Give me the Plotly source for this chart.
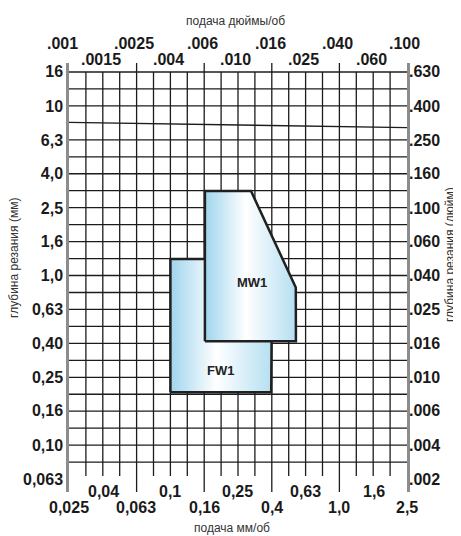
import numpy as np
import plotly.graph_objects as go

# ---------------- data ----------------
feed_mm_values = [0.025, 0.04, 0.063, 0.1, 0.16, 0.25, 0.4, 0.63, 1.0, 1.6, 2.5]
feed_mm_labels = ["0,025", "0,04", "0,063", "0,1", "0,16", "0,25", "0,4", "0,63", "1,0", "1,6", "2,5"]
feed_in_labels = [".001", ".0015", ".0025", ".004", ".006", ".010", ".016", ".025", ".040", ".060", ".100"]

depth_mm_values = [16, 10, 6.3, 4.0, 2.5, 1.6, 1.0, 0.63, 0.40, 0.25, 0.16, 0.10, 0.063]
depth_mm_labels = ["16", "10", "6,3", "4,0", "2,5", "1,6", "1,0", "0,63", "0,40", "0,25", "0,16", "0,10", "0,063"]
depth_in_labels = [".630", ".400", ".250", ".160", ".100", ".060", ".040", ".025", ".016", ".010", ".006", ".004", ".002"]

fw1_feed = [0.10, 0.10, 0.40, 0.395, 0.10]
fw1_depth = [0.205, 1.25, 1.25, 0.205, 0.205]
mw1_feed = [0.16, 0.16, 0.30, 0.535, 0.552, 0.553, 0.16]
mw1_depth = [0.41, 3.15, 3.15, 0.92, 0.85, 0.41, 0.41]

x_title = "подача мм/об"
x2_title = "подача дюймы/об"
y_title = "глубина резания (мм)"
y2_title = "глубина резания (дюйм)"

# ---------------- geometry ----------------
# the page body adds an 8px margin, so the figure is 8px smaller than the window
OFF = 8
W, H = 461 - OFF, 536 - OFF
ML, MR, MT, MB = 69 - OFF, 54, 63 - OFF, 44
PW = W - ML - MR
XLO, XHI = -1.6, 0.4
PX_PER_DEC_Y = 169.6
YHI = 1.2 + 9 / PX_PER_DEC_Y
YLO = YHI - (H - MT - MB) / PX_PER_DEC_Y

FONT = "Liberation Sans, Arial, sans-serif"
INK = "#1a1a1a"

# grid built on the R10 (10^0.1) series used by the chart
gx, gy = [], []
for k in range(-11, 13):          # horizontal lines 0.08 ... 16
    if k == 9:
        continue                  # this one is drawn slightly skewed below
    gx += [10 ** XLO, 10 ** XHI, None]
    gy += [10 ** (k / 10), 10 ** (k / 10), None]
gx += [10 ** XLO, 10 ** XHI, None]
gy += [10 ** 0.9035, 10 ** 0.8717, None]
for j in range(-15, 4):           # vertical lines (interior)
    long_tick = (j + 16) % 4 == 0
    y0 = 10 ** YLO if long_tick else 10 ** -1.182
    y1 = 10 ** YHI if long_tick else 10 ** 1.2
    gx += [10 ** (j / 10), 10 ** (j / 10), None]
    gy += [y0, y1, None]

fig = go.Figure()
fig.add_trace(go.Scatter(x=gx, y=gy, mode="lines", line=dict(color="#1c1c1c", width=1.3),
                         hoverinfo="skip", showlegend=False))

grad = dict(type="horizontal",
            colorscale=[[0, "#9fd5ee"], [0.45, "#ffffff"], [1, "#b5dff2"]])
fig.add_trace(go.Scatter(x=fw1_feed, y=fw1_depth, mode="lines", fill="toself", fillgradient=grad,
                         line=dict(color="#202020", width=2.5), hoverinfo="skip", showlegend=False))
fig.add_trace(go.Scatter(x=mw1_feed, y=mw1_depth, mode="lines", fill="toself", fillgradient=grad,
                         line=dict(color="#202020", width=2.5), hoverinfo="skip", showlegend=False))
fig.add_trace(go.Scatter(x=[None], y=[None], yaxis="y2", showlegend=False, hoverinfo="skip"))

tickfont = dict(family=FONT, size=16, color=INK)
common_y = dict(type="log", range=[YLO, YHI], showgrid=False, zeroline=False, showline=True,
                linecolor="#8c8c8c", linewidth=2.5, ticks="", tickfont=tickfont,
                tickvals=depth_mm_values)

fig.update_layout(
    width=W, height=H,
    margin=dict(l=ML, r=MR, t=MT, b=MB),
    paper_bgcolor="white", plot_bgcolor="white",
    showlegend=False,
    xaxis=dict(type="log", range=[XLO, XHI], showgrid=False, zeroline=False, showline=False,
               showticklabels=False, ticks=""),
    yaxis=dict(**common_y, ticktext=[f"<b>{t}</b>" for t in depth_mm_labels]),
    yaxis2=dict(**common_y, overlaying="y", side="right", ticklabelstandoff=-4,
                ticktext=[f"<b>{t}</b>" for t in depth_in_labels]),
)


def xpaper(v):
    return (float(np.log10(v)) - XLO) / (XHI - XLO)


ann = []
for i, (v, lab, ilab) in enumerate(zip(feed_mm_values, feed_mm_labels, feed_in_labels)):
    xp = xpaper(v)
    # bottom (mm) labels: odd indices upper row, even indices lower row
    ann.append(dict(x=xp, xref="paper", xanchor="center", y=0, yref="paper", yanchor="middle",
                    yshift=1 if i % 2 else -15, text=f"<b>{lab}</b>", showarrow=False,
                    font=tickfont))
    # top (inch) labels: even indices upper row, odd indices lower row
    ann.append(dict(x=xp, xref="paper", xanchor="center", xshift=-2 if i else -6,
                    y=1, yref="paper", yanchor="middle",
                    yshift=4 if i % 2 else 19.5, text=f"<b>{ilab}</b>", showarrow=False,
                    font=tickfont))

title_font = dict(family=FONT, size=12, color="#333333")
ann += [
    dict(x=0.482, y=0, xref="paper", yref="paper", xanchor="center", yanchor="middle", yshift=-36,
         text=x_title, showarrow=False, font=title_font),
    dict(x=0.492, y=1, xref="paper", yref="paper", xanchor="center", yanchor="middle", yshift=42.5,
         text=x2_title, showarrow=False, font=title_font),
    dict(x=(14 - 69) / PW, y=0.5455, xref="paper", yref="paper", xanchor="center",
         yanchor="middle", text=y_title, textangle=-90, showarrow=False, font=title_font),
    dict(x=(450 - 69) / PW, y=0.5524, xref="paper", yref="paper", xanchor="center",
         yanchor="middle", text=y2_title, textangle=-90, showarrow=False, font=title_font),
    dict(x=float(np.log10(0.304)), y=float(np.log10(0.904)), xref="x", yref="y",
         text="<b>MW1</b>", showarrow=False, font=dict(family=FONT, size=13, color="#222222")),
    dict(x=float(np.log10(0.197)), y=float(np.log10(0.275)), xref="x", yref="y",
         text="<b>FW1</b>", showarrow=False, font=dict(family=FONT, size=13, color="#222222")),
]
fig.update_layout(annotations=ann)

fig.write_html("out.html")
